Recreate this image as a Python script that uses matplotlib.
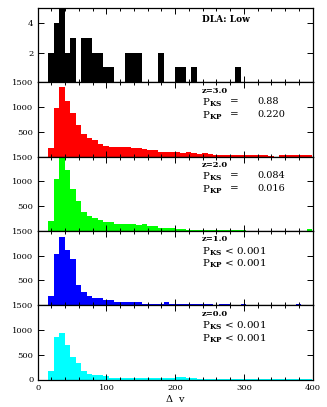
import numpy as np
import matplotlib
matplotlib.use("Agg")
import matplotlib.pyplot as plt
from matplotlib.ticker import MultipleLocator, FixedLocator

plt.rcParams['font.family'] = ['DejaVu Serif']
plt.rcParams['mathtext.fontset'] = 'dejavuserif'

# bins of 8 km/s from 15 to 399
bin_edges = [15 + 8 * k for k in range(49)]

dla_low = [2, 4, 5, 2, 3, 0, 3, 3, 2, 2, 1, 1, 0, 0, 2, 2, 2, 0, 0, 0,
           2, 0, 0, 1, 1, 0, 1, 0, 0, 0, 0, 0, 0, 0, 1, 0, 0, 0, 0, 0,
           0, 0, 0, 0, 0, 0, 0, 0]

z30 = [180, 990, 1410, 1120, 885, 640, 455, 370, 330, 260, 220, 200, 200, 200, 195, 170,
       165, 150, 140, 130, 100, 95, 85, 90, 80, 85, 70, 55, 65, 50, 40, 35,
       35, 40, 30, 30, 30, 30, 30, 30, 20, 0, 30, 30, 25, 30, 25, 30]
z20 = [195, 1050, 1480, 1235, 840, 600, 390, 305, 270, 215, 180, 180, 145, 145, 145, 130,
       110, 130, 90, 90, 55, 55, 55, 40, 40, 28, 28, 28, 28, 28, 28, 28,
       28, 28, 28, 28, 8, 8, 8, 8, 8, 8, 8, 8, 8, 8, 8, 30]
z10 = [185, 1035, 1380, 1120, 930, 410, 270, 190, 150, 150, 100, 100, 55, 55, 55, 55,
       55, 27, 27, 27, 27, 55, 20, 20, 20, 20, 20, 20, 20, 20, 14, 20,
       20, 7, 7, 27, 7, 7, 7, 7, 7, 7, 7, 7, 7, 27, 0, 0]
z00 = [165, 855, 935, 690, 450, 330, 165, 120, 100, 100, 65, 40, 40, 40, 40, 40,
       40, 40, 26, 40, 40, 26, 26, 45, 45, 26, 26, 13, 13, 13, 13, 13,
       13, 13, 13, 13, 13, 13, 13, 13, 13, 13, 13, 13, 13, 13, 13, 13]

z_labels = ['z=3.0', 'z=2.0', 'z=1.0', 'z=0.0']
p_ks = ['=', '=', '<', '<']
p_ks_val = ['0.88', '0.084', '0.001', '0.001']
p_kp_val = ['0.220', '0.016', '0.001', '0.001']
colors = ['#ff0000', '#00ff00', '#0000ff', '#00ffff']
series = [z30, z20, z10, z00]

W, H = 327, 407
fig = plt.figure(figsize=(W / 100, H / 100), dpi=100)

left = 37.7 / W
width = 275.0 / W
top0 = 8.0
ph = 74.3

lefts = np.array(bin_edges[:-1])
axes = []
for i in range(5):
    bottom = 1 - (top0 + ph * (i + 1)) / H
    ax = fig.add_axes([left, bottom, width, ph / H])
    axes.append(ax)
    ax.set_xlim(0, 400)
    ax.xaxis.set_major_locator(MultipleLocator(100))
    ax.xaxis.set_minor_locator(MultipleLocator(20))
    ax.tick_params(which='both', direction='in', top=True, right=True,
                   labelsize=6, width=0.7, pad=3)
    ax.tick_params(which='major', length=4)
    ax.tick_params(which='minor', length=2.5)
    for s in ax.spines.values():
        s.set_linewidth(0.9)
    if i < 4:
        ax.tick_params(labelbottom=False)

# top panel: DLA low
ax = axes[0]
ax.bar(lefts, dla_low, width=8, align='edge', color='black', linewidth=0)
ax.set_ylim(0, 5)
ax.yaxis.set_major_locator(FixedLocator([2, 4]))
ax.text(0.597, 0.85, 'DLA: Low', transform=ax.transAxes, fontsize=6.5,
        fontweight='bold', ha='left', va='center')

for i in range(4):
    ax = axes[i + 1]
    ax.bar(lefts, series[i], width=8, align='edge', color=colors[i], linewidth=0)
    ax.set_ylim(0, 1500)
    ax.yaxis.set_major_locator(FixedLocator([0, 500, 1000, 1500]))
    if i < 3:
        ax.set_yticklabels(['', '500', '1000', '1500'])
    ax.text(0.597, 0.885, z_labels[i], transform=ax.transAxes, fontsize=6,
            fontweight='bold', ha='left', va='center')
    if p_ks[i] == '=':
        ax.text(0.597, 0.725, r'$\mathrm{P}_{\mathbf{KS}}$', transform=ax.transAxes,
                fontsize=7.5, ha='left', va='center')
        ax.text(0.597, 0.555, r'$\mathrm{P}_{\mathbf{KP}}$', transform=ax.transAxes,
                fontsize=7.5, ha='left', va='center')
        ax.text(0.70, 0.74, '=', transform=ax.transAxes, fontsize=7.5, ha='left', va='center')
        ax.text(0.70, 0.57, '=', transform=ax.transAxes, fontsize=7.5, ha='left', va='center')
        ax.text(0.80, 0.74, p_ks_val[i], transform=ax.transAxes, fontsize=7, ha='left', va='center')
        ax.text(0.80, 0.57, p_kp_val[i], transform=ax.transAxes, fontsize=7, ha='left', va='center')
    else:
        ax.text(0.597, 0.725, r'$\mathrm{P}_{\mathbf{KS}}$ < ' + p_ks_val[i],
                transform=ax.transAxes, fontsize=7.5, ha='left', va='center')
        ax.text(0.597, 0.555, r'$\mathrm{P}_{\mathbf{KP}}$ < ' + p_kp_val[i],
                transform=ax.transAxes, fontsize=7.5, ha='left', va='center')

axes[4].set_xlabel(r'$\Delta$  v', fontsize=7, labelpad=1)

fig.savefig('out.png', dpi=100)
